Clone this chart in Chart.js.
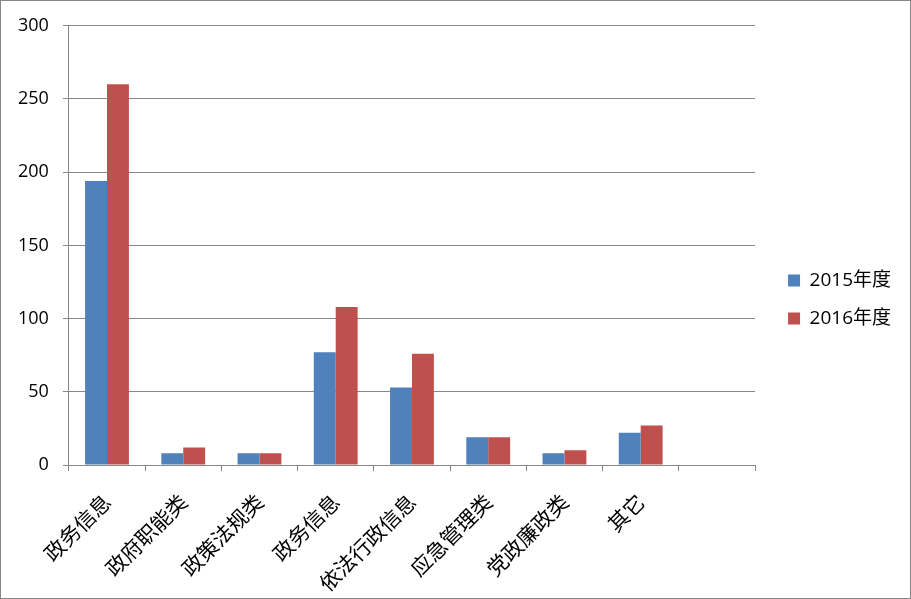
<!DOCTYPE html>
<html>
<head>
<meta charset="utf-8">
<script src="https://cdn.jsdelivr.net/npm/chart.js@4/dist/chart.umd.min.js"></script>
<style>
html,body{margin:0;padding:0;background:#fff;}
#wrap{width:911px;height:599px;box-sizing:border-box;border:1px solid #868686;position:relative;}
canvas{display:block;}
</style>
</head>
<body>
<div id="wrap"><canvas id="c" width="909" height="597"></canvas></div>
<script>
const categories = ['政务信息','政府职能类','政策法规类','政务信息','依法行政信息','应急管理类','党政廉政类','其它',''];
const series2015 = [194, 8, 8, 77, 53, 19, 8, 22, null];
const series2016 = [260, 12, 8, 108, 76, 19, 10, 27, null];
const seriesNames = ['2015年度','2016年度'];
const yTicks = [0, 50, 100, 150, 200, 250, 300];

const gridColor = '#888888';
const legendShift = {dx: 14, dy: -7};
const shiftLegend = {
  id: 'shiftLegend',
  afterLayout(chart) {
    const lg = chart.legend;
    if (!lg) return;
    lg.left += legendShift.dx; lg.right += legendShift.dx;
    lg.top += legendShift.dy; lg.bottom += legendShift.dy;
  }
};

new Chart(document.getElementById('c'), {
  type: 'bar',
  data: {
    labels: categories,
    datasets: [
      {label: seriesNames[0], data: series2015, backgroundColor: '#4F81BD', barPercentage: 1, categoryPercentage: 0.575},
      {label: seriesNames[1], data: series2016, backgroundColor: '#C0504D', barPercentage: 1, categoryPercentage: 0.575}
    ]
  },
  plugins: [shiftLegend],
  options: {
    responsive: false,
    animation: false,
    layout: {padding: {top: 14, left: 3, right: 23, bottom: 0}},
    plugins: {
      tooltip: {enabled: false},
      legend: {
        position: 'right',
        labels: {
          boxWidth: 12, boxHeight: 12, padding: 19,
          color: '#000',
          font: {family: '"Open Sans", "Noto Sans CJK SC", sans-serif', size: 19}
        }
      }
    },
    scales: {
      y: {
        min: 0, max: 300,
        afterBuildTicks: (s) => { s.ticks = yTicks.map(v => ({value: v})); },
        grid: {color: gridColor, lineWidth: 1, tickLength: 6},
        border: {color: gridColor},
        ticks: {color: '#000', padding: 14, font: {family: '"Open Sans", sans-serif', size: 18}}
      },
      x: {
        afterFit: (s) => { s.height = 133; },
        grid: {offset: true, drawOnChartArea: false, color: gridColor, tickLength: 6},
        border: {color: gridColor},
        ticks: {color: '#000', minRotation: 45, maxRotation: 45, padding: 18,
          font: {family: '"Noto Sans CJK SC", sans-serif', size: 21}}
      }
    }
  }
});
</script>
</body>
</html>
